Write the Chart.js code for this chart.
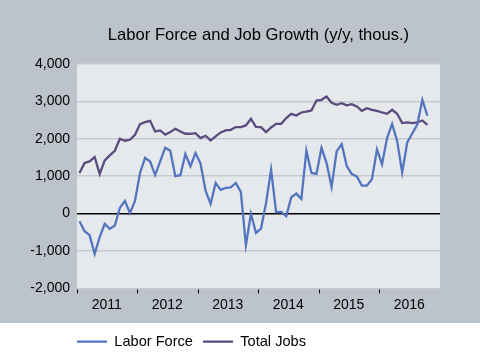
<!DOCTYPE html>
<html>
<head>
<meta charset="utf-8">
<script src="https://cdn.jsdelivr.net/npm/chart.js@4/dist/chart.umd.min.js"></script>
<style>
    html, body { margin: 0; padding: 0; background: #bdc3ca; }
    #wrap { width: 480px; height: 363px; position: relative; }
</style>
</head>
<body>
<div id="wrap"><canvas id="laborChart"></canvas></div>
<script>
const years = ['2011', '2012', '2013', '2014', '2015', '2016'];
const months = ['Jan', 'Feb', 'Mar', 'Apr', 'May', 'Jun', 'Jul', 'Aug', 'Sep', 'Oct', 'Nov', 'Dec'];
const categories = years.flatMap(y => months.map(m => m + ' ' + y));

// y/y change, thousands (Jan 2011 - Oct 2016)
const laborForce = [
    -205, -472, -578, -1075, -632, -275, -408, -320, 151, 340, 18, 340,
    1085, 1490, 1390, 1030, 1395, 1760, 1680, 1000, 1025, 1592, 1262, 1618,
    1340, 613, 258, 818, 632, 685, 702, 818, 578, -845, -8, -515,
    -400, 285, 1173, 35, 45, -72, 435, 533, 392, 1680, 1085, 1058,
    1760, 1350, 715, 1662, 1858, 1270, 1058, 995, 747, 747, 915, 1715,
    1320, 2018, 2395, 1940, 1102, 1900, 2140, 2380, 3040, 2615
];
const totalJobs = [
    1085, 1352, 1395, 1512, 1058, 1422, 1555, 1680, 2000, 1947, 1973, 2107,
    2392, 2445, 2480, 2195, 2222, 2107, 2178, 2267, 2195, 2133, 2133, 2150,
    2018, 2080, 1955, 2062, 2168, 2222, 2240, 2312, 2312, 2355, 2533, 2320,
    2312, 2178, 2302, 2400, 2400, 2552, 2667, 2622, 2702, 2728, 2755, 3022,
    3040, 3128, 2960, 2907, 2952, 2893, 2925, 2862, 2747, 2818, 2773, 2747,
    2702, 2667, 2773, 2667, 2418, 2435, 2418, 2435, 2488, 2373
];
const yTicks = [-2000, -1000, 0, 1000, 2000, 3000, 4000];

const fontFamily = "'Liberation Sans', Arial, sans-serif";

// outer gray, white legend strip, light plot area
const backgroundPlugin = {
    id: 'backgrounds',
    beforeDraw(chart) {
        const { ctx, chartArea, width, height } = chart;
        ctx.save();
        ctx.fillStyle = '#bdc3ca';
        ctx.fillRect(0, 0, width, height);
        ctx.fillStyle = '#ffffff';
        ctx.fillRect(0, 323, width, height - 323);
        ctx.fillStyle = '#e6e9ec';
        ctx.fillRect(chartArea.left, chartArea.top, chartArea.right - chartArea.left, chartArea.bottom - chartArea.top);
        ctx.restore();
    }
};

// legend starts flush with the plot's left edge
const legendShift = {
    id: 'legendShift',
    afterLayout(chart) {
        if (chart.legend) {
            chart.legend.left -= 10;
            chart.legend.right -= 10;
        }
    }
};

new Chart(document.getElementById('laborChart'), {
    type: 'line',
    data: {
        labels: categories,
        datasets: [{
            label: 'Labor Force',
            data: laborForce,
            borderColor: '#5375c0',
            backgroundColor: '#5375c0',
            borderWidth: 2.3,
            pointRadius: 0,
            tension: 0
        }, {
            label: 'Total Jobs',
            data: totalJobs,
            borderColor: '#5a4a7e',
            backgroundColor: '#5a4a7e',
            borderWidth: 2.3,
            pointRadius: 0,
            tension: 0
        }]
    },
    options: {
        responsive: true,
        maintainAspectRatio: false,
        animation: false,
        layout: {
            padding: { left: 0, right: 40, top: 0, bottom: 4 }
        },
        scales: {
            x: {
                offset: true,
                border: { display: false },
                grid: {
                    offset: true,
                    drawOnChartArea: false,
                    tickLength: 5,
                    lineWidth: 1,
                    color: ctx => ctx.index % 12 === 0 ? '#000000' : 'rgba(0,0,0,0)'
                },
                ticks: {
                    autoSkip: false,
                    maxRotation: 0,
                    minRotation: 0,
                    padding: 3,
                    labelOffset: -3,
                    color: '#000000',
                    font: { family: fontFamily, size: 14 },
                    callback: (value, index) => index % 12 === 6 ? years[Math.floor(index / 12)] : ''
                },
                afterFit: scale => { scale.height = 36; }
            },
            y: {
                min: yTicks[0],
                max: yTicks[yTicks.length - 1],
                border: { display: false },
                grid: {
                    drawTicks: false,
                    lineWidth: 1.5,
                    color: ctx => ctx.tick && ctx.tick.value === 0 ? '#000000' : '#c6c9cd'
                },
                afterBuildTicks: scale => {
                    scale.ticks = yTicks.map(v => ({ value: v }));
                },
                ticks: {
                    padding: 7,
                    color: '#000000',
                    font: { family: fontFamily, size: 14 },
                    callback: value => value.toLocaleString('en-US')
                },
                afterFit: scale => { scale.width = 77; }
            }
        },
        plugins: {
            title: {
                display: true,
                text: 'Labor Force and Job Growth (y/y, thous.)',
                fullSize: false,
                color: '#000000',
                font: { family: fontFamily, size: 16.6, weight: 'normal' },
                padding: { top: 25, bottom: 19 }
            },
            legend: {
                position: 'bottom',
                align: 'start',
                fullSize: false,
                labels: {
                    usePointStyle: true,
                    pointStyle: 'line',
                    pointStyleWidth: 30,
                    padding: 10,
                    color: '#000000',
                    font: { family: fontFamily, size: 14.6 }
                }
            },
            tooltip: { enabled: false }
        }
    },
    plugins: [backgroundPlugin, legendShift]
});
</script>
</body>
</html>
